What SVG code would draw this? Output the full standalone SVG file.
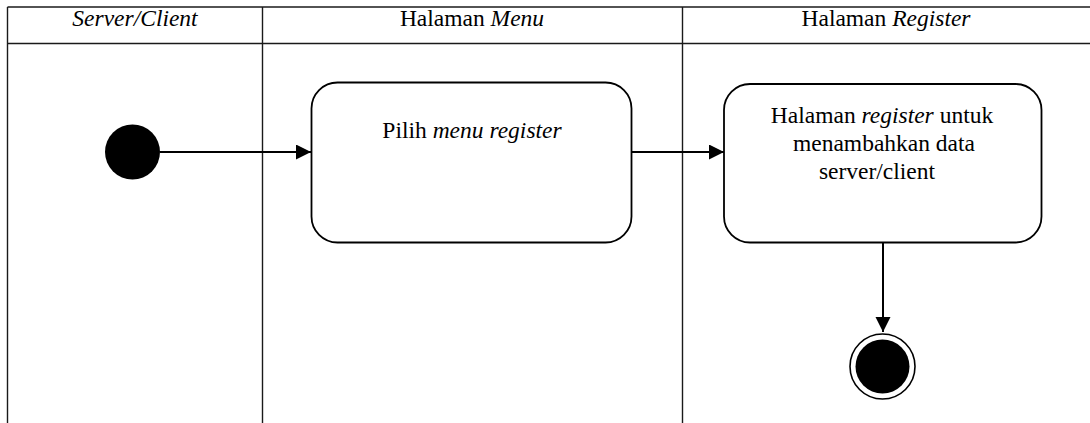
<svg xmlns="http://www.w3.org/2000/svg" width="1090" height="423" viewBox="0 0 1090 423">
  <style>
    .grid { stroke: #1a1a1a; stroke-width: 1.4; fill: none; }
    text { font-family: 'Liberation Serif', 'DejaVu Serif', 'Times New Roman', serif; font-size: 23.5px; fill: #000; text-anchor: middle; }
    .it { font-style: italic; }
    .box { fill: #fff; stroke: #000; stroke-width: 1.8; }
    .edge { stroke: #000; stroke-width: 2; fill: none; }
  </style>
  <defs>
    <marker id="arr" markerWidth="16" markerHeight="16" refX="15" refY="7.5" orient="auto" markerUnits="userSpaceOnUse">
      <path d="M0,0 L15,7.5 L0,15 Z" fill="#000"/>
    </marker>
  </defs>
  <rect width="1090" height="423" fill="#fff"/>
  <g id="swimlanes">
    <line class="grid" x1="7.5" y1="7" x2="1090" y2="7"/>
    <line class="grid" x1="7.5" y1="43.5" x2="1090" y2="43.5"/>
    <line class="grid" x1="7.5" y1="7" x2="7.5" y2="423"/>
    <line class="grid" x1="262.5" y1="7" x2="262.5" y2="423"/>
    <line class="grid" x1="682.5" y1="7" x2="682.5" y2="423"/>
    <text class="it" x="135" y="26">Server/Client</text>
    <text x="472" y="26">Halaman <tspan class="it">Menu</tspan></text>
    <text x="886" y="26">Halaman <tspan class="it">Register</tspan></text>
  </g>
  <g id="connectors">
    <line class="edge" x1="160" y1="152" x2="311" y2="152" marker-end="url(#arr)"/>
    <line class="edge" x1="631.5" y1="152" x2="724" y2="152" marker-end="url(#arr)"/>
    <line class="edge" x1="883" y1="243" x2="883" y2="332" marker-end="url(#arr)"/>
  </g>
  <g id="start">
    <circle cx="132.5" cy="152" r="27.5" fill="#000"/>
  </g>
  <g id="pilih-menu">
    <rect class="box" x="311.5" y="82.5" width="320" height="160" rx="26" ry="26"/>
    <text x="472" y="138">Pilih <tspan class="it">menu register</tspan></text>
  </g>
  <g id="halaman-register">
    <rect class="box" x="724" y="84" width="317.5" height="158.5" rx="26" ry="26"/>
    <text x="882" y="123">Halaman <tspan class="it">register</tspan> untuk</text>
    <text x="884" y="151">menambahkan data</text>
    <text x="877" y="179">server/client</text>
  </g>
  <g id="end">
    <circle cx="882.5" cy="366.5" r="32.5" fill="#fff" stroke="#000" stroke-width="1.6"/>
    <circle cx="882.5" cy="366.5" r="27" fill="#000"/>
  </g>
</svg>
